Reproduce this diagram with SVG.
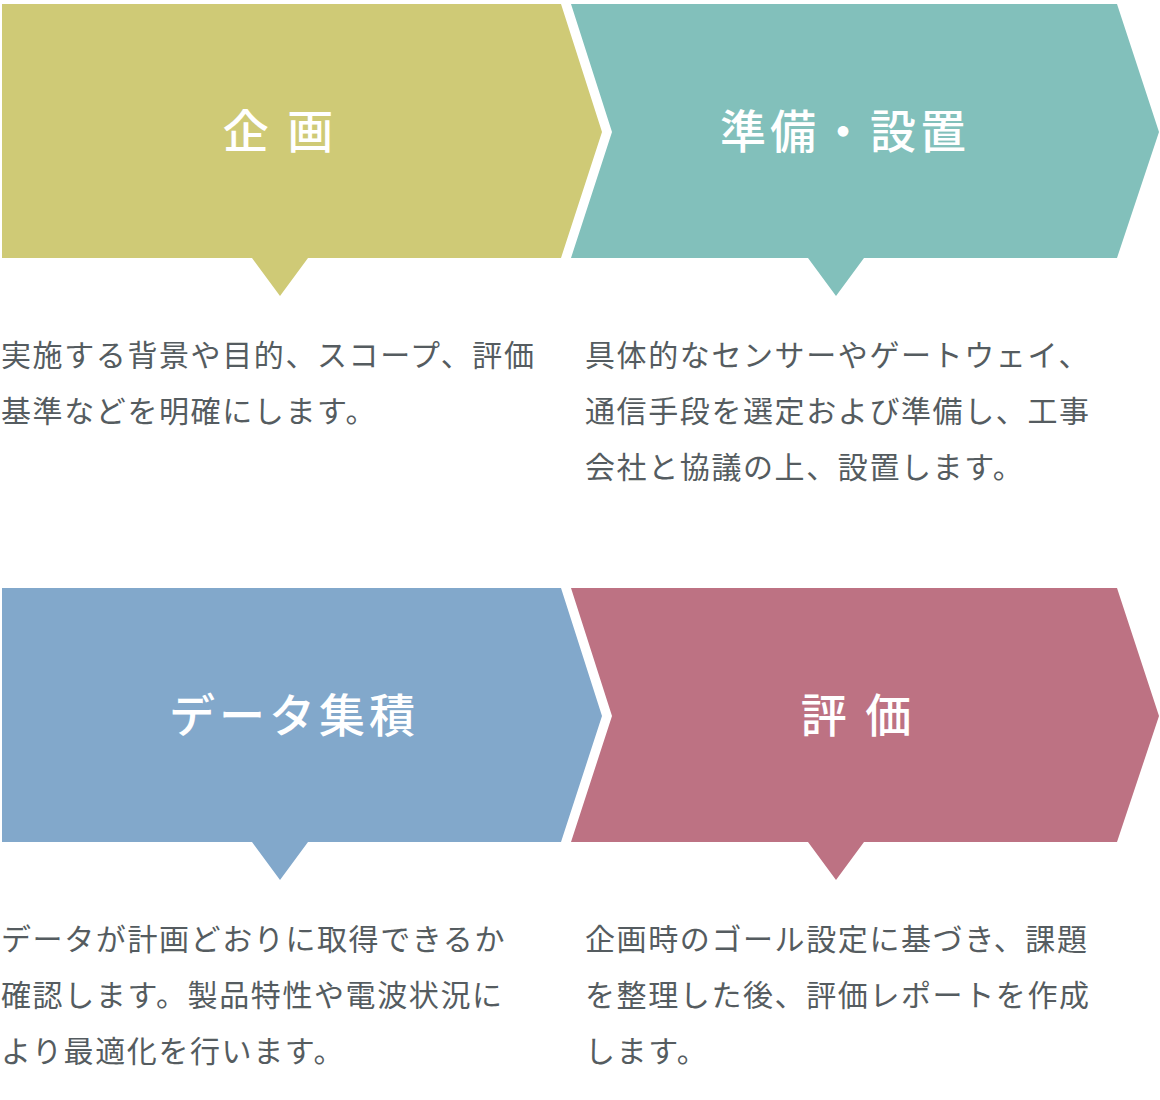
<svg xmlns="http://www.w3.org/2000/svg" width="1160" height="1100" viewBox="0 0 1160 1100">
<style>
.title{font-family:"Noto Sans CJK JP","Noto Sans",sans-serif;font-size:46px;font-weight:500;fill:#ffffff;text-anchor:middle;letter-spacing:4px}
.body{font-family:"Noto Sans CJK JP","Noto Sans",sans-serif;font-size:30px;fill:#555c60;letter-spacing:1.6px}
</style>
<rect width="1160" height="1100" fill="#ffffff"/>
<g id="connectors"></g>
<g id="node-kikaku">
<polygon points="2,4 561,4 602,132 561,258 308,258 280,296 252,258 2,258" fill="#cfca76"/>
<text class="title" x="280" y="148">企 画</text>
<text class="body" x="1" y="366">実施する背景や目的、スコープ、評価</text>
<text class="body" x="1" y="422">基準などを明確にします。</text>
</g>
<g id="node-junbi">
<polygon points="571,4 1117,4 1159,132 1117,258 864,258 836,296 808,258 571,258 612,132" fill="#82c0bb"/>
<text class="title" x="845" y="148">準備・設置</text>
<text class="body" x="585" y="366">具体的なセンサーやゲートウェイ、</text>
<text class="body" x="585" y="422">通信手段を選定および準備し、工事</text>
<text class="body" x="585" y="478">会社と協議の上、設置します。</text>
</g>
<g id="node-data">
<polygon points="2,588 561,588 602,716 561,842 308,842 280,880 252,842 2,842" fill="#82a8cb"/>
<text class="title" x="294" y="732">データ集積</text>
<text class="body" x="1" y="950">データが計画どおりに取得できるか</text>
<text class="body" x="1" y="1006">確認します。製品特性や電波状況に</text>
<text class="body" x="1" y="1062">より最適化を行います。</text>
</g>
<g id="node-hyoka">
<polygon points="571,588 1117,588 1159,716 1117,842 864,842 836,880 808,842 571,842 612,716" fill="#bd7283"/>
<text class="title" x="858" y="732">評 価</text>
<text class="body" x="585" y="950">企画時のゴール設定に基づき、課題</text>
<text class="body" x="585" y="1006">を整理した後、評価レポートを作成</text>
<text class="body" x="585" y="1062">します。</text>
</g>
</svg>
